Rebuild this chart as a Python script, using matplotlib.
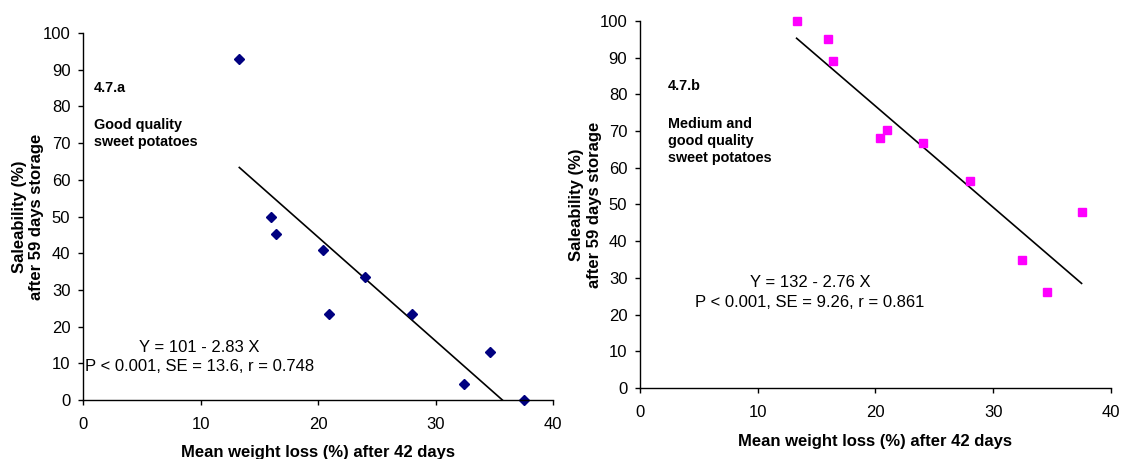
import matplotlib
matplotlib.use("Agg")
import numpy as np
import matplotlib.pyplot as plt

plt.rcParams['font.family'] = ['Liberation Sans', 'DejaVu Sans']

# Mean weight loss (%) after 42 days
weight_loss_a = [13.3, 16.0, 16.4, 20.45, 20.97, 24.03, 28.03, 32.4, 34.6, 37.5]
saleability_a = [92.8, 50.0, 45.3, 40.9, 23.4, 33.4, 23.4, 4.3, 13.1, 0.0]

weight_loss_b = [13.3, 15.95, 16.4, 20.4, 20.95, 24.03, 28.0, 32.4, 34.6, 37.5]
saleability_b = [100.0, 95.0, 89.1, 68.2, 70.3, 66.7, 56.3, 34.9, 26.1, 47.9]

# regression coefficients (intercept, slope)
fit_a = (101, -2.83)
fit_b = (132, -2.76)

fig = plt.figure(figsize=(11.22, 4.59), dpi=100)
ax1 = fig.add_axes([0.0740, 0.1285, 0.4189, 0.7996])
ax2 = fig.add_axes([0.5704, 0.1547, 0.4198, 0.7996])


def style_axes(ax):
    ax.set_xlim(0, 40)
    ax.set_ylim(0, 100)
    ax.set_xticks([0, 10, 20, 30, 40])
    ax.set_yticks(range(0, 101, 10))
    for s in ['top', 'right']:
        ax.spines[s].set_visible(False)
    for s in ['left', 'bottom']:
        ax.spines[s].set_linewidth(1.0)
        ax.spines[s].set_color('black')
    ax.tick_params(axis='both', direction='out', length=3.6, width=1.0, labelsize=12)
    ax.tick_params(axis='x', pad=8.6)
    ax.tick_params(axis='y', pad=5.5)
    ax.set_ylabel('Saleability (%)\nafter 59 days storage', fontsize=12, fontweight='bold')
    ax.set_xlabel('Mean weight loss (%) after 42 days', fontsize=12, fontweight='bold')


# panel a
style_axes(ax1)
xa = np.array(weight_loss_a)
line_x = np.linspace(xa.min(), xa.max(), 100)
ax1.plot(line_x, fit_a[0] + fit_a[1] * line_x, color='black', lw=1.2)
ax1.plot(weight_loss_a, saleability_a, 'D', color='#000080', markersize=5.2, clip_on=False)
ax1.yaxis.set_label_coords(-0.083, 0.5)
ax1.xaxis.set_label_coords(0.5, -0.122)
ax1.text(0.9, 84.9, '4.7.a', fontsize=10.4, fontweight='bold', va='center')
ax1.text(0.9, 72.6, 'Good quality\nsweet potatoes', fontsize=10.4, fontweight='bold',
         va='center', linespacing=1.25)
ax1.text(9.9, 11.7, 'Y = 101 - 2.83 X\nP < 0.001, SE = 13.6, r = 0.748', fontsize=12,
         ha='center', va='center', linespacing=1.35)

# panel b
style_axes(ax2)
xb = np.array(weight_loss_b)
line_x = np.linspace(xb.min(), xb.max(), 100)
ax2.plot(line_x, fit_b[0] + fit_b[1] * line_x, color='black', lw=1.2)
ax2.plot(weight_loss_b, saleability_b, 's', color='#FF00FF', markersize=5.8, clip_on=False)
ax2.yaxis.set_label_coords(-0.081, 0.5)
ax2.xaxis.set_label_coords(0.5, -0.126)
ax2.text(2.37, 82.2, '4.7.b', fontsize=10.4, fontweight='bold', va='center')
ax2.text(2.37, 67.3, 'Medium and\ngood quality\nsweet potatoes', fontsize=10.4,
         fontweight='bold', va='center', linespacing=1.25)
ax2.text(14.45, 26.0, 'Y = 132 - 2.76 X\nP < 0.001, SE = 9.26, r = 0.861', fontsize=12,
         ha='center', va='center', linespacing=1.35)

fig.savefig('out.png', dpi=100)
